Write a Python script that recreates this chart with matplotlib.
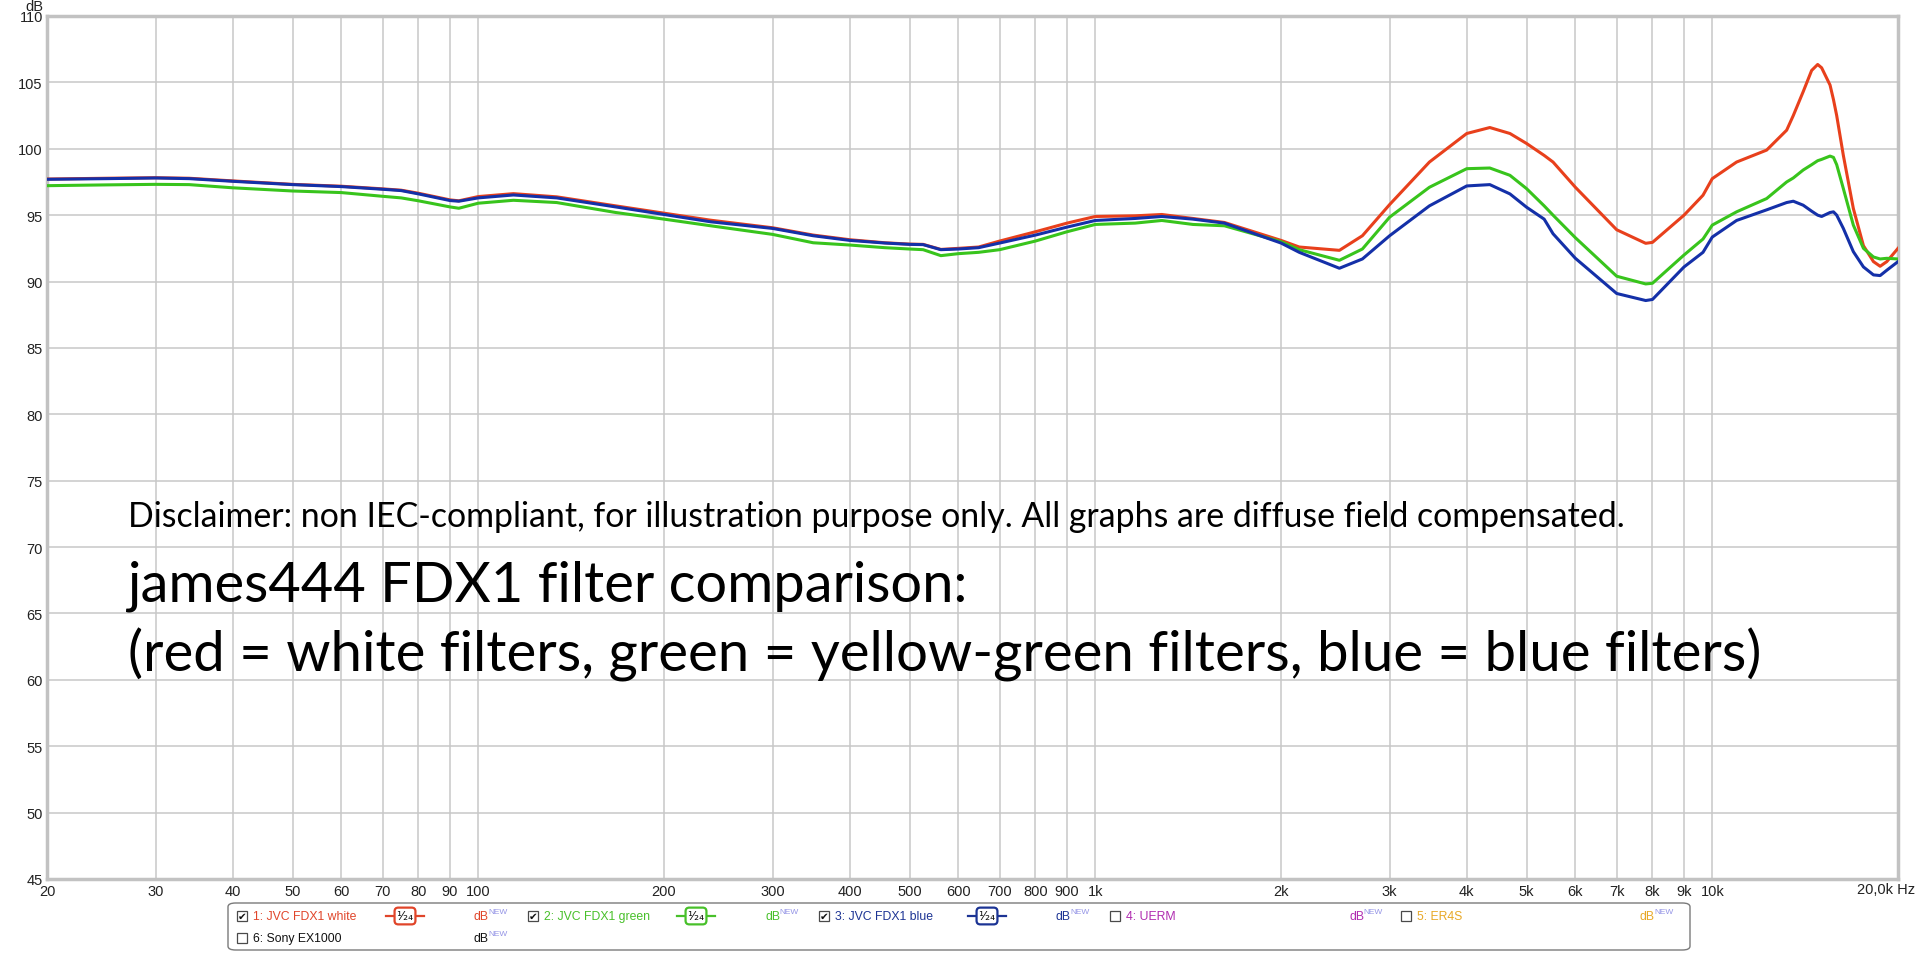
import matplotlib.pyplot as plt
from matplotlib.patches import Rectangle, FancyBboxPatch
from matplotlib.lines import Line2D
from matplotlib.ticker import NullLocator

# frequency response (Hz / dB)
freq = [20, 25, 30, 34, 40, 50, 60, 70, 75, 80, 90, 93, 100, 114, 134, 167,
        200, 238, 300, 349, 400, 456, 500, 526, 562, 600, 647, 700, 800, 900,
        1000, 1160, 1282, 1440, 1619, 2000, 2141, 2487, 2710, 3000, 3480, 4000,
        4360, 4700, 5000, 5340, 5520, 6000, 7000, 7800, 8000, 9000, 9660,
        10000, 10950, 12250, 13200, 13530, 14040, 14490, 14820, 15040, 15520,
        15720, 15910, 16310, 16930, 17580, 18250, 18710, 19180, 20000]
red_db = [97.72, 97.78, 97.82, 97.78, 97.58, 97.32, 97.18, 96.98, 96.88, 96.65,
          96.15, 96.08, 96.4, 96.62, 96.38, 95.7, 95.15, 94.62, 94.05, 93.5,
          93.15, 92.92, 92.82, 92.8, 92.42, 92.5, 92.6, 93.05, 93.75, 94.4,
          94.9, 94.95, 95.05, 94.75, 94.45, 93.1, 92.6, 92.35, 93.45, 95.8,
          99.0, 101.15, 101.6, 101.15, 100.4, 99.5, 99.0, 97.1, 93.9, 92.88,
          92.95, 95.0, 96.5, 97.75, 99.0, 99.9, 101.4, 102.5, 104.3, 105.9,
          106.35, 106.1, 104.8, 103.7, 102.5, 99.5, 95.5, 92.7, 91.5, 91.15,
          91.5, 92.5]
green_db = [97.22, 97.28, 97.32, 97.3, 97.06, 96.82, 96.7, 96.42, 96.3, 96.08,
            95.62, 95.52, 95.9, 96.12, 95.95, 95.2, 94.7, 94.2, 93.55, 92.92,
            92.75, 92.55, 92.45, 92.4, 91.95, 92.1, 92.2, 92.4, 93.05, 93.75,
            94.3, 94.4, 94.6, 94.3, 94.2, 93.0, 92.4, 91.6, 92.45, 94.85,
            97.1, 98.5, 98.55, 98.0, 97.0, 95.7, 95.0, 93.3, 90.4, 89.82,
            89.87, 92.0, 93.2, 94.25, 95.25, 96.25, 97.5, 97.8, 98.4, 98.8,
            99.1, 99.2, 99.45, 99.35, 98.8, 97.0, 94.25, 92.5, 91.85, 91.7,
            91.75, 91.7]
blue_db = [97.7, 97.75, 97.8, 97.75, 97.55, 97.3, 97.15, 96.95, 96.85, 96.6,
           96.1, 96.05, 96.3, 96.52, 96.3, 95.62, 95.05, 94.5, 94.0, 93.45,
           93.1, 92.9, 92.8, 92.78, 92.4, 92.45, 92.55, 92.9, 93.5, 94.1,
           94.6, 94.75, 94.9, 94.7, 94.4, 92.9, 92.2, 91.0, 91.7, 93.45,
           95.7, 97.2, 97.3, 96.6, 95.6, 94.7, 93.6, 91.75, 89.1, 88.57,
           88.65, 91.1, 92.2, 93.35, 94.6, 95.4, 95.95, 96.05, 95.75, 95.3,
           95.0, 94.9, 95.2, 95.25, 95.0, 94.0, 92.25, 91.1, 90.5, 90.45,
           90.85, 91.5]

x_ticks = [20, 30, 40, 50, 60, 70, 80, 90, 100, 200, 300, 400, 500, 600, 700,
           800, 900, 1000, 2000, 3000, 4000, 5000, 6000, 7000, 8000, 9000,
           10000, 20000]
x_labels = ['20', '30', '40', '50', '60', '70', '80', '90', '100', '200', '300',
            '400', '500', '600', '700', '800', '900', '1k', '2k', '3k', '4k',
            '5k', '6k', '7k', '8k', '9k', '10k', '']
y_ticks = list(range(45, 111, 5))

# legend entries of the measurement tool
legend_names = ['1: JVC FDX1 white', '2: JVC FDX1 green', '3: JVC FDX1 blue',
                '4: UERM', '5: ER4S', '6: Sony EX1000']
legend_colors = ['#e0452a', '#48c02a', '#1c3494', '#b02cb0', '#e8a826', '#111111']
legend_checked = [True, True, True, False, False, False]
legend_smooth = [True, True, True, False, False, False]

RED, GREEN, BLUE = '#e8401c', '#38c41c', '#1430a8'

W, H = 1920, 954
fig = plt.figure(figsize=(19.2, 9.54), dpi=100)


def fx(x):
    return x / W


def fy(y):
    return 1 - y / H


ax = fig.add_axes([fx(47), fy(880), fx(1898) - fx(47), fy(17) - fy(880)])
ax.semilogx(freq, red_db, color=RED, lw=2.2, zorder=3)
ax.semilogx(freq, green_db, color=GREEN, lw=2.2, zorder=4)
ax.semilogx(freq, blue_db, color=BLUE, lw=2.2, zorder=5)
ax.set_xlim(20, 20000)
ax.set_ylim(45, 110)
ax.set_xticks(x_ticks, x_labels)
ax.xaxis.set_minor_locator(NullLocator())
ax.set_yticks(y_ticks, [str(v) for v in y_ticks])
ax.grid(True, color='#c8c8c8', lw=1.1, zorder=0)
ax.tick_params(length=0, labelsize=10.5, labelcolor='#222222')
ax.tick_params(axis='x', pad=3.5)
ax.tick_params(axis='y', pad=3)
for lab in ax.get_xticklabels() + ax.get_yticklabels():
    lab.set_family('Liberation Sans')
for sp in ax.spines.values():
    sp.set_color('#c2c2c2')
    sp.set_linewidth(2.5)

fig.text(fx(34), fy(7), 'dB', fontsize=10.5, family='Liberation Sans',
         color='#222222', ha='center', va='center')
fig.text(fx(1886), fy(890), '20,0k Hz', fontsize=10.5, family='Liberation Sans',
         color='#222222', ha='center', va='center')

# annotation text inside the plot, sized to the widths seen in the original
renderer = fig.canvas.get_renderer()


def fit_text(s, x, y, width, size0):
    t = fig.text(fx(x), fy(y), s, fontsize=size0, family='Lato',
                 ha='left', va='baseline', color='black', zorder=10)
    w = t.get_window_extent(renderer).width
    t.set_fontsize(size0 * width / w)
    return t


fit_text('Disclaimer: non IEC-compliant, for illustration purpose only. '
         'All graphs are diffuse field compensated.', 128, 527, 1499, 20)
fit_text('james444 FDX1 filter comparison:', 127, 602, 840, 40)
fit_text('(red = white filters, green = yellow-green filters, blue = blue filters)',
         128, 672, 1635, 40)

# legend panel at the bottom
fig.patches.append(FancyBboxPatch((fx(228), fy(951)), fx(1690) - fx(228),
                                  fy(904) - fy(951),
                                  boxstyle='round,pad=0,rounding_size=0.004',
                                  transform=fig.transFigure, fc='white',
                                  ec='#7a7a7a', lw=1.0))

for i, name in enumerate(legend_names):
    col = legend_colors[i]
    if i < 5:
        x0 = 237 + 291 * i
        yc = 917
    else:
        x0 = 237
        yc = 939
    fig.patches.append(Rectangle((fx(x0), fy(yc + 5)), fx(10), 10 / H,
                                 transform=fig.transFigure, fc='white',
                                 ec='#4a4a4a', lw=0.9))
    if legend_checked[i]:
        fig.text(fx(x0 + 5.5), fy(yc), '\u2714', fontsize=7.5, family='DejaVu Sans',
                 ha='center', va='center', color='#111111')
    fig.text(fx(x0 + 16), fy(yc), name, fontsize=8.8, family='Liberation Sans',
             color=col, ha='left', va='center')
    if legend_smooth[i]:
        cx = x0 + 168
        fig.lines.append(Line2D([fx(cx - 19), fx(cx + 19)], [fy(yc), fy(yc)],
                                transform=fig.transFigure, color=col, lw=1.6))
        fig.text(fx(cx), fy(yc), '\u00b9\u2044\u2082\u2084', fontsize=9,
                 family='DejaVu Sans', ha='center', va='center', color='#111111',
                 bbox=dict(boxstyle='round,pad=0.15,rounding_size=0.3',
                           fc='white', ec=col, lw=1.6))
    dbx = x0 + 237 if i < 3 or i == 5 else x0 + 239
    fig.text(fx(dbx), fy(yc), 'dB', fontsize=8.8, family='Liberation Sans',
             color=col, ha='left', va='center')
    fig.text(fx(dbx + 14), fy(yc - 4), 'NEW', fontsize=6,
             family='Liberation Sans', color='#9494e6', ha='left', va='center')

fig.savefig('out.png', dpi=100, facecolor='white')
